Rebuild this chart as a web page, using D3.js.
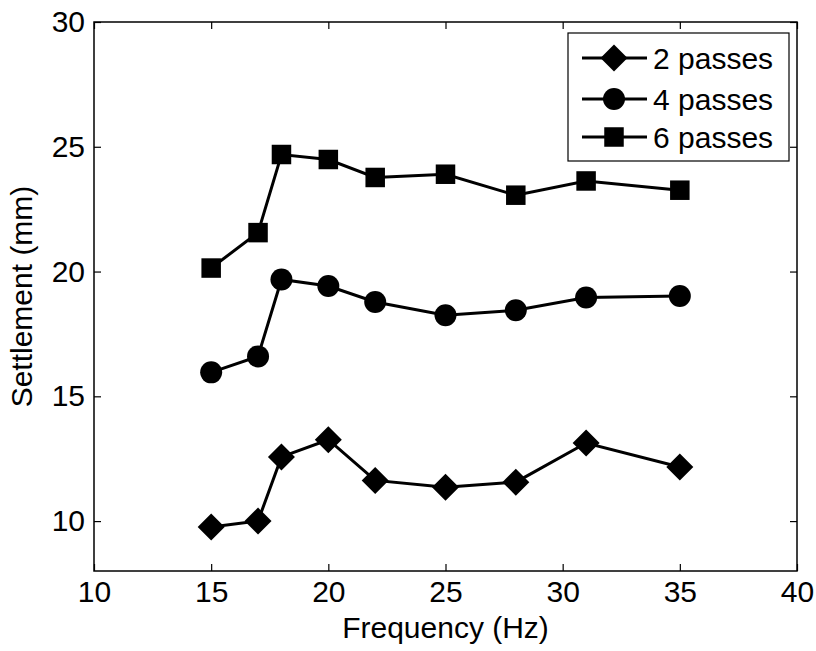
<!DOCTYPE html>
<html>
<head>
<meta charset="utf-8">
<script src="https://cdn.jsdelivr.net/npm/d3@7"></script>
<style>
  html, body { margin: 0; padding: 0; background: #fff; }
  svg { display: block; font-family: "Liberation Sans", Arial, sans-serif; }
</style>
</head>
<body>
<svg id="chart" width="816" height="651"></svg>
<script>
const frequencies = [15, 17, 18, 20, 22, 25, 28, 31, 35];
const passes2 = [9.76, 10.0, 12.57, 13.26, 11.63, 11.36, 11.56, 13.13, 12.17];
const passes4 = [15.96, 16.6, 19.68, 19.42, 18.78, 18.25, 18.45, 18.96, 19.02];
const passes6 = [20.14, 21.56, 24.69, 24.49, 23.77, 23.90, 23.06, 23.63, 23.26];
const seriesNames = ["2 passes", "4 passes", "6 passes"];
const xTicks = [10, 15, 20, 25, 30, 35, 40];
const yTicks = [10, 15, 20, 25, 30];

(function () {
const svg = d3.select("#chart");
const pL = 94, pR = 797, pT = 22, pB = 571;
const x = d3.scaleLinear().domain([10, 40]).range([pL, pR]);
const y = d3.scaleLinear().domain([8, 30]).range([pB, pT]);

const fontSize = 30;

svg.append("rect").attr("x", pL).attr("y", pT)
  .attr("width", pR - pL).attr("height", pB - pT)
  .attr("fill", "none").attr("stroke", "#000").attr("stroke-width", 1.5);

const gx = svg.append("g").attr("transform", `translate(0,${pB})`)
  .call(d3.axisBottom(x).tickValues(xTicks).tickSize(-7).tickPadding(10).tickFormat(d3.format("d")));
const gxt = svg.append("g").attr("transform", `translate(0,${pT})`)
  .call(d3.axisTop(x).tickValues(xTicks).tickSize(-7).tickFormat(""));
const gy = svg.append("g").attr("transform", `translate(${pL},0)`)
  .call(d3.axisLeft(y).tickValues(yTicks).tickSize(-7).tickPadding(9).tickFormat(d3.format("d")));
const gyr = svg.append("g").attr("transform", `translate(${pR},0)`)
  .call(d3.axisRight(y).tickValues(yTicks).tickSize(-7).tickFormat(""));

[gx, gxt, gy, gyr].forEach(g => {
  g.select(".domain").remove();
  g.selectAll(".tick line").attr("stroke", "#000").attr("stroke-width", 1.2);
  g.selectAll(".tick text").attr("fill", "#000").attr("font-size", fontSize)
    .attr("font-family", "Liberation Sans, Arial, sans-serif");
});

svg.append("text").attr("x", (pL + pR) / 2).attr("y", 638)
  .attr("text-anchor", "middle").attr("font-size", fontSize).text("Frequency (Hz)");
svg.append("text").attr("transform", `translate(32,${(pT + pB) / 2}) rotate(-90)`)
  .attr("text-anchor", "middle").attr("font-size", fontSize).text("Settlement (mm)");

const line = d3.line().x((d, i) => x(frequencies[i])).y(d => y(d));

function drawMarker(g, type, cx, cy) {
  if (type === 0) {
    const r = 13.5;
    g.append("path").attr("d", `M${cx},${cy - r}L${cx + r},${cy}L${cx},${cy + r}L${cx - r},${cy}Z`).attr("fill", "#000");
  } else if (type === 1) {
    g.append("circle").attr("cx", cx).attr("cy", cy).attr("r", 11).attr("fill", "#000");
  } else {
    const s = 19.5;
    g.append("rect").attr("x", cx - s / 2).attr("y", cy - s / 2).attr("width", s).attr("height", s).attr("fill", "#000");
  }
}

const allSeries = [passes2, passes4, passes6];
allSeries.forEach((vals, k) => {
  const g = svg.append("g");
  g.append("path").datum(vals).attr("d", line).attr("fill", "none")
    .attr("stroke", "#000").attr("stroke-width", 3);
  vals.forEach((v, i) => drawMarker(g, k, x(frequencies[i]), y(v)));
});

const lg = svg.append("g");
lg.append("rect").attr("x", 568).attr("y", 33).attr("width", 221).attr("height", 128)
  .attr("fill", "#fff").attr("stroke", "#000").attr("stroke-width", 1.2);
const rowY = [58, 99, 137];
seriesNames.forEach((name, k) => {
  const cy = rowY[k];
  lg.append("line").attr("x1", 582).attr("x2", 647).attr("y1", cy).attr("y2", cy)
    .attr("stroke", "#000").attr("stroke-width", 3);
  drawMarker(lg, k, 614, cy);
  lg.append("text").attr("x", 653).attr("y", cy).attr("dy", "0.35em")
    .attr("font-size", fontSize).text(name);
});
})();
</script>
</body>
</html>
